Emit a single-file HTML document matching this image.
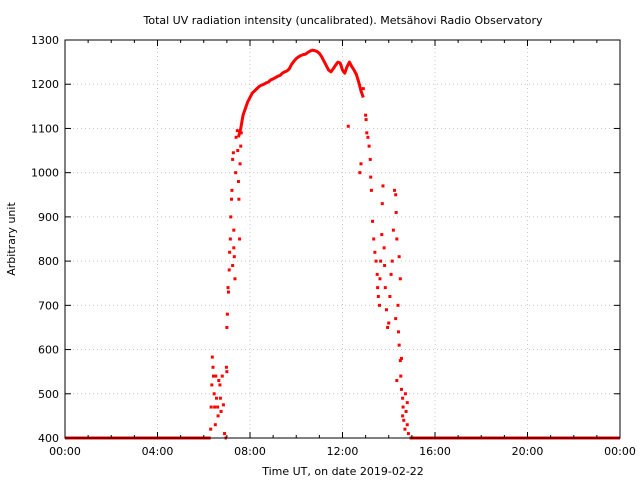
<!DOCTYPE html>
<html><head><meta charset="utf-8"><style>
body{margin:0;background:#fff;}
svg text{font-family:"DejaVu Sans","Liberation Sans",sans-serif;font-size:11px;fill:#000;}
</style></head><body>
<svg id="chart" width="640" height="480" xmlns="http://www.w3.org/2000/svg">
<rect width="640" height="480" fill="#fff"/>
<g id="grid"></g><g id="marks"></g><g id="axes"></g>
<text x="343" y="24" text-anchor="middle">Total UV radiation intensity (uncalibrated). Metsähovi Radio Observatory</text>
<text transform="translate(15,239) rotate(-90)" text-anchor="middle">Arbitrary unit</text>
<text x="343" y="475" text-anchor="middle">Time UT, on date 2019-02-22</text>
</svg>
<script>
const yTicks=[400,500,600,700,800,900,1000,1100,1200,1300];
const xTicks=[0,4,8,12,16,20,24];
const xTickLabels=["00:00","04:00","08:00","12:00","16:00","20:00","00:00"];
const flatSegments=[[0,6.3],[6.9,7.0],[14.9,24]];
const flatValue=400;
const curveHours=[7.5,7.6,7.7,7.8,7.9,8.0,8.1,8.2,8.3,8.4,8.5,8.6,8.7,8.8,8.9,9.0,9.1,9.2,9.3,9.4,9.5,9.6,9.7,9.8,9.9,10.0,10.1,10.2,10.3,10.4,10.5,10.6,10.7,10.8,10.9,11.0,11.1,11.2,11.3,11.4,11.5,11.6,11.7,11.8,11.9,12.0,12.1,12.2,12.3,12.4,12.5,12.6,12.7,12.8,12.9];
const curveValues=[1080,1100,1130,1145,1160,1170,1180,1185,1190,1195,1198,1200,1203,1205,1210,1212,1215,1218,1220,1225,1228,1230,1235,1245,1252,1258,1262,1265,1267,1268,1272,1275,1277,1276,1274,1270,1262,1252,1242,1232,1228,1235,1243,1250,1248,1232,1225,1240,1250,1240,1232,1222,1205,1185,1170];
const scatter=[[6.3,420],[6.32,470],[6.35,520],[6.37,583],[6.4,560],[6.42,540],[6.45,500],[6.47,470],[6.5,430],[6.52,540],[6.55,490],[6.6,470],[6.62,450],[6.65,530],[6.7,520],[6.72,490],[6.75,460],[6.8,540],[6.85,475],[6.9,410],[7.0,650],[7.02,680],[7.05,740],[7.07,730],[7.1,780],[7.12,820],[7.15,850],[7.17,900],[7.2,940],[7.22,960],[7.25,1030],[7.28,1045],[7.3,870],[7.32,810],[7.35,760],[7.38,1000],[7.4,1080],[7.45,1095],[7.47,1050],[7.5,980],[7.52,940],[7.55,850],[7.57,1020],[7.6,1060],[7.62,1090],[7.25,790],[7.3,830],[6.98,560],[7.0,550],
[12.9,1190],[13.0,1130],[13.02,1120],[13.05,1090],[13.1,1080],[13.15,1060],[13.2,1030],[13.22,990],[13.25,960],[12.75,1000],[12.8,1020],[12.25,1105],[13.3,890],[13.35,850],[13.4,820],[13.45,800],[13.5,770],[13.52,740],[13.55,720],[13.6,700],[13.62,760],[13.65,800],[13.7,860],[13.72,930],[13.75,970],[13.8,830],[13.82,790],[13.85,740],[13.9,690],[13.95,650],[14.0,660],[14.05,720],[14.1,770],[14.15,800],[14.2,870],[14.25,960],[14.3,950],[14.32,910],[14.35,850],[14.4,700],[14.42,640],[14.45,610],[14.5,575],[14.52,540],[14.55,510],[14.6,490],[14.62,470],[14.65,440],[14.7,420],[14.72,500],[14.75,460],[14.8,430],[14.85,410],[14.45,810],[14.5,760],[14.3,670],[14.55,580],[14.35,530],[14.6,450],[14.8,480]];
const L=65,R=620,T=40,B=438;
const xs=h=>L+(R-L)*h/24;
const ys=v=>B-(B-T)*(v-400)/900;
const NS="http://www.w3.org/2000/svg";
function mk(tag,attrs,parent){const e=document.createElementNS(NS,tag);for(const k in attrs)e.setAttribute(k,attrs[k]);parent.appendChild(e);return e;}
const grid=document.getElementById('grid'),marks=document.getElementById('marks'),axes=document.getElementById('axes');
yTicks.forEach(v=>{
 if(v>400&&v<1300){const g=mk('line',{x1:L,x2:R,y1:ys(v),y2:ys(v),stroke:'#c8c8c8','stroke-dasharray':'1,3'},grid);
 
 }
 const t=mk('line',{x1:L,x2:L+6,y1:ys(v),y2:ys(v),stroke:'#000'},axes);
 mk('line',{x1:R,x2:R-6,y1:ys(v),y2:ys(v),stroke:'#000'},axes);
 const tx=mk('text',{x:L-6,y:ys(v)+4,'text-anchor':'end'},axes);tx.textContent=v;
 
 
});
for(let h=0;h<=24;h++){
 const major=h%4===0,len=major?6:3;
 mk('line',{x1:xs(h),x2:xs(h),y1:B,y2:B-len,stroke:'#000'},axes);
 mk('line',{x1:xs(h),x2:xs(h),y1:T,y2:T+len,stroke:'#000'},axes);
}
xTicks.forEach((h,i)=>{
 if(h>0&&h<24){const g=mk('line',{x1:xs(h),x2:xs(h),y1:T,y2:B,stroke:'#c8c8c8','stroke-dasharray':'1,3'},grid);
 
 }
 const tx=mk('text',{x:xs(h),y:B+17,'text-anchor':'middle'},axes);tx.textContent=xTickLabels[i];
 
 
});
const frame=mk('rect',{x:L,y:T,width:R-L,height:B-T,fill:'none',stroke:'#000'},axes);


flatSegments.forEach(s=>{
 const l=mk('line',{x1:xs(s[0]),x2:xs(s[1]),y1:ys(flatValue),y2:ys(flatValue),stroke:'#f00','stroke-width':3},marks);
 
 
});
const pts=curveHours.map((h,i)=>xs(h)+','+ys(curveValues[i])).join(' ');
const pl=mk('polyline',{points:pts,fill:'none',stroke:'#f00','stroke-width':3,'stroke-linejoin':'round'},marks);


scatter.forEach(p=>{
 const c=mk('rect',{x:xs(p[0])-1.5,y:ys(p[1])-1.5,width:3,height:3,fill:'#f00'},marks);
 
 
});
</script>
</body></html>
